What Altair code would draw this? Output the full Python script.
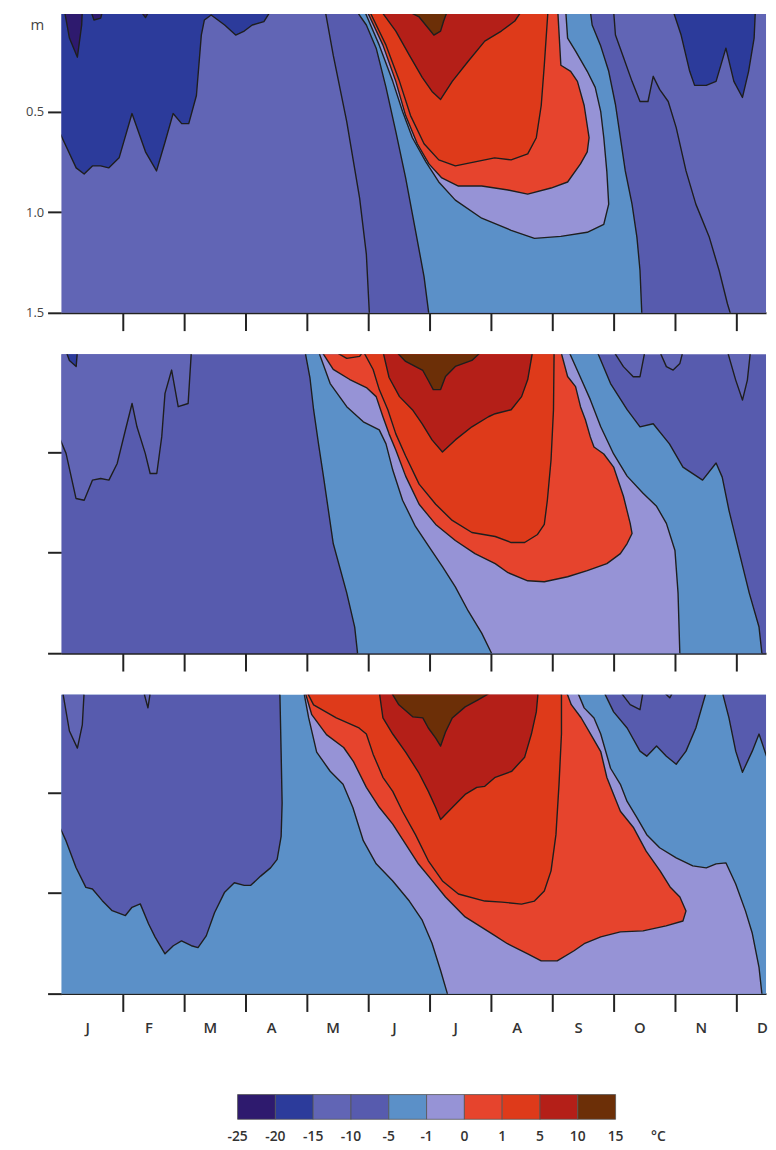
import altair as alt
import pandas as pd

# ---------------- labels / colours ----------------
MONTHS = ["J", "F", "M", "A", "M", "J", "J", "A", "S", "O", "N", "D"]
LEVEL_LABELS = ["-25", "-20", "-15", "-10", "-5", "-1", "0", "1", "5", "10", "15"]
UNIT_LABEL = "°C"
DEPTH_UNIT = "m"
BAND_KEYS = ["m25", "m20", "m15", "m10", "m5", "m1", "p0", "p1", "p5", "p10"]
BAND_COLORS = ["#2e1a6e", "#2c3b9b", "#6165b5", "#575bae", "#5b90c8",
               "#9693d6", "#e6442d", "#de3a1a", "#b41f18", "#6c2f07"]
COL = dict(zip(BAND_KEYS, BAND_COLORS))
DEPTH_TICKS = [0.5, 1.0, 1.5]
UNIT_DEPTH = 0.07  # where the "m" unit label sits on the depth axis

# ---------------- contour lines (month, depth in m) ----------------
# panel 1
P1_TM20_A = [(0.05, 0), (0.13, 0.135), (0.26, 0.23), (0.33, 0.07), (0.34, 0)]
P1_TM20_B = [(0.48, 0), (0.53, 0.045), (0.64, 0.036), (0.67, 0)]
P1_TM20_C = [(1.29, 0), (1.37, 0.033), (1.43, 0)]
P1_TM15_L = [(-0.05, 0.59), (0.24, 0.78), (0.37, 0.81), (0.505, 0.77), (0.64, 0.77), (0.77, 0.78),
             (0.94, 0.73), (1.15, 0.51), (1.37, 0.70), (1.55, 0.795), (1.69, 0.65), (1.82, 0.51),
             (1.96, 0.56), (2.075, 0.56), (2.20, 0.42), (2.28, 0.12), (2.33, 0.045), (2.44, 0.02),
             (2.66, 0.07), (2.84, 0.12), (2.98, 0.10), (3.11, 0.07), (3.30, 0.053), (3.41, 0)]
P1_TM15_R = [(9.97, 0), (10.10, 0.12), (10.24, 0.30), (10.32, 0.37), (10.42, 0.37), (10.51, 0.37),
             (10.67, 0.35), (10.83, 0.185), (10.96, 0.35), (11.10, 0.43), (11.20, 0.30),
             (11.29, 0.135), (11.31, 0)]
P1_TM10_L = [(4.30, 0), (4.43, 0.22), (4.65, 0.55), (4.86, 0.93), (4.97, 1.21), (5.02, 1.51)]
P1_TM10_R = [(9.00, 0), (9.03, 0.12), (9.16, 0.23), (9.30, 0.35), (9.43, 0.45), (9.56, 0.45),
             (9.645, 0.325), (9.75, 0.39), (9.89, 0.45), (10.02, 0.58), (10.18, 0.795),
             (10.34, 0.96), (10.56, 1.125), (10.72, 1.29), (10.855, 1.455), (10.91, 1.51)]
P1_TM5_L = [(4.81, 0), (4.97, 0.07), (5.13, 0.185), (5.29, 0.38), (5.45, 0.60), (5.61, 0.83),
            (5.77, 1.09), (5.91, 1.32), (5.99, 1.51)]
P1_TM5_R = [(8.62, 0), (8.65, 0.07), (8.785, 0.17), (8.92, 0.30), (9.03, 0.465), (9.11, 0.63),
            (9.19, 0.795), (9.30, 0.96), (9.38, 1.125), (9.43, 1.29), (9.46, 1.51)]
P1_TM1 = [(4.94, 0), (5.18, 0.17), (5.40, 0.35), (5.56, 0.50), (5.72, 0.63), (5.94, 0.75),
          (6.15, 0.85), (6.42, 0.94), (6.85, 1.03), (7.33, 1.09), (7.71, 1.13), (8.14, 1.12),
          (8.57, 1.10), (8.84, 1.06), (8.92, 0.96), (8.89, 0.80), (8.84, 0.63), (8.79, 0.50),
          (8.70, 0.38), (8.57, 0.30), (8.38, 0.20), (8.25, 0.135), (8.22, 0)]
P1_T0 = [(4.98, 0), (5.24, 0.17), (5.45, 0.35), (5.61, 0.52), (5.80, 0.66), (5.99, 0.76),
         (6.20, 0.83), (6.47, 0.87), (6.85, 0.87), (7.28, 0.89), (7.60, 0.91), (7.98, 0.88),
         (8.25, 0.85), (8.46, 0.76), (8.57, 0.70), (8.60, 0.63), (8.52, 0.47), (8.41, 0.35),
         (8.30, 0.30), (8.14, 0.27), (8.09, 0)]
P1_T1 = [(5.02, 0), (5.29, 0.17), (5.51, 0.35), (5.69, 0.52), (5.91, 0.66), (6.15, 0.74),
         (6.42, 0.77), (6.74, 0.75), (7.06, 0.73), (7.33, 0.74), (7.60, 0.71), (7.74, 0.63),
         (7.82, 0.47), (7.87, 0.27), (7.93, 0)]
P1_T5 = [(5.21, 0), (5.45, 0.10), (5.67, 0.22), (5.88, 0.33), (6.04, 0.40), (6.18, 0.44),
         (6.37, 0.35), (6.63, 0.25), (6.90, 0.15), (7.17, 0.10), (7.39, 0.05), (7.50, 0)]
P1_T10 = [(5.64, 0), (5.83, 0.03), (5.99, 0.09), (6.07, 0.12), (6.18, 0.10), (6.23, 0.05), (6.29, 0)]

# panel 2
P2_TM15_A = [(0.075, 0), (0.13, 0.045), (0.24, 0.075), (0.26, 0)]
P2_TM10_L = [(-0.05, 0.416), (0.075, 0.507), (0.237, 0.731), (0.371, 0.74), (0.505, 0.64),
             (0.64, 0.632), (0.774, 0.64), (0.909, 0.557), (1.043, 0.391), (1.151, 0.259),
             (1.231, 0.375), (1.366, 0.507), (1.446, 0.607), (1.554, 0.607), (1.635, 0.424),
             (1.688, 0.209), (1.796, 0.093), (1.903, 0.275), (2.065, 0.259), (2.118, 0)]
P2_TM10_A = [(9.00, 0), (9.16, 0.076), (9.32, 0.126), (9.43, 0.126), (9.51, 0)]
P2_TM10_B = [(9.75, 0), (9.86, 0.076), (9.97, 0.093), (10.08, 0.06), (10.13, 0)]
P2_TM10_C = [(10.855, 0), (10.99, 0.143), (11.10, 0.242), (11.18, 0.143), (11.23, 0)]
P2_TM5_L = [(3.97, 0), (4.05, 0.13), (4.11, 0.29), (4.19, 0.46), (4.27, 0.62), (4.43, 0.955),
            (4.65, 1.20), (4.78, 1.37), (4.83, 1.51)]
P2_TM5_R = [(8.73, 0), (8.95, 0.16), (9.22, 0.29), (9.43, 0.375), (9.645, 0.36), (9.91, 0.46),
            (10.13, 0.575), (10.45, 0.64), (10.67, 0.555), (10.77, 0.625), (10.88, 0.79),
            (11.04, 0.99), (11.21, 1.20), (11.37, 1.37), (11.42, 1.51)]
P2_TM1_L = [(4.19, 0), (4.38, 0.16), (4.65, 0.275), (4.92, 0.35), (5.18, 0.39), (5.29, 0.46),
            (5.40, 0.59), (5.56, 0.74), (5.77, 0.87), (5.99, 0.97), (6.21, 1.07), (6.42, 1.17),
            (6.63, 1.29), (6.85, 1.40), (7.01, 1.50)]
P2_TM1_R = [(8.27, 0), (8.46, 0.13), (8.62, 0.24), (8.79, 0.375), (9.00, 0.51), (9.22, 0.62),
            (9.48, 0.705), (9.70, 0.77), (9.86, 0.855), (10.00, 0.99), (10.05, 1.20), (10.08, 1.51)]
P2_T0 = [(4.24, 0), (4.43, 0.09), (4.70, 0.14), (4.97, 0.18), (5.13, 0.225), (5.24, 0.325),
         (5.34, 0.41), (5.45, 0.49), (5.61, 0.62), (5.83, 0.76), (6.10, 0.86), (6.42, 0.94),
         (6.74, 1.005), (7.07, 1.055), (7.28, 1.10), (7.60, 1.14), (7.87, 1.145), (8.25, 1.12),
         (8.57, 1.09), (8.89, 1.055), (9.11, 1.005), (9.22, 0.955), (9.30, 0.905), (9.27, 0.855),
         (9.16, 0.72), (9.00, 0.575), (8.84, 0.51), (8.68, 0.475), (8.62, 0.425), (8.54, 0.34),
         (8.46, 0.275), (8.38, 0.175), (8.25, 0.125), (8.14, 0)]
P2_T1 = [(4.45, 0), (4.65, 0.035), (4.86, 0.025), (4.92, 0), (5.08, 0.09), (5.18, 0.19),
         (5.32, 0.29), (5.45, 0.41), (5.61, 0.52), (5.83, 0.66), (6.10, 0.76), (6.37, 0.84),
         (6.69, 0.90), (7.07, 0.92), (7.33, 0.95), (7.55, 0.95), (7.76, 0.91), (7.87, 0.86),
         (7.92, 0.74), (7.98, 0.54), (8.02, 0.29), (8.03, 0)]
P2_T5 = [(5.24, 0), (5.34, 0.13), (5.51, 0.225), (5.72, 0.29), (5.88, 0.36), (6.04, 0.44),
         (6.21, 0.50), (6.42, 0.44), (6.69, 0.375), (6.96, 0.325), (7.07, 0.31), (7.33, 0.29),
         (7.50, 0.225), (7.60, 0.14), (7.68, 0)]
P2_T10 = [(5.45, 0), (5.61, 0.05), (5.89, 0.095), (5.98, 0.145), (6.06, 0.19), (6.18, 0.19),
          (6.26, 0.125), (6.42, 0.075), (6.69, 0.045), (6.85, 0)]

# panel 3
P3_TM5_L = [(-0.05, 0.658), (0.075, 0.741), (0.237, 0.873), (0.398, 0.972), (0.505, 0.98),
            (0.666, 1.038), (0.827, 1.088), (1.043, 1.112), (1.15, 1.071), (1.285, 1.054),
            (1.419, 1.153), (1.527, 1.219), (1.688, 1.302), (1.823, 1.262), (1.957, 1.238),
            (2.118, 1.262), (2.226, 1.271), (2.36, 1.213), (2.495, 1.098), (2.656, 0.998),
            (2.818, 0.949), (2.979, 0.962), (3.086, 0.962), (3.247, 0.916), (3.408, 0.875),
            (3.516, 0.833), (3.581, 0.718), (3.597, 0.553), (3.581, 0.305), (3.56, 0)]
P3_TM10_A = [(0.02, 0), (0.13, 0.195), (0.26, 0.28), (0.34, 0.165), (0.37, 0)]
P3_TM10_B = [(1.34, 0), (1.41, 0.08), (1.45, 0)]
P3_TM5_A = [(8.84, 0), (9.00, 0.10), (9.22, 0.18), (9.43, 0.295), (9.54, 0.32), (9.70, 0.27),
            (9.86, 0.32), (10.02, 0.36), (10.18, 0.295), (10.34, 0.18), (10.51, 0)]
P3_TM5_B = [(10.77, 0), (10.88, 0.13), (10.99, 0.295), (11.10, 0.40), (11.26, 0.295),
            (11.37, 0.21), (11.52, 0.345), (11.6, 0.4)]
P3_TM10_C = [(9.11, 0), (9.27, 0.064), (9.43, 0.089), (9.48, 0)]
P3_TM10_D = [(9.81, 0), (9.915, 0.03), (9.97, 0)]
P3_TM1_L = [(3.95, 0), (4.03, 0.13), (4.16, 0.30), (4.38, 0.395), (4.59, 0.46), (4.75, 0.575),
            (4.92, 0.74), (5.13, 0.855), (5.40, 0.94), (5.67, 1.04), (5.88, 1.135), (6.04, 1.25),
            (6.18, 1.385), (6.29, 1.5)]
P3_TM1_R = [(8.41, 0), (8.52, 0.08), (8.68, 0.13), (8.79, 0.21), (8.95, 0.38), (9.11, 0.46),
            (9.22, 0.545), (9.38, 0.625), (9.54, 0.71), (9.75, 0.775), (10.02, 0.825),
            (10.29, 0.865), (10.51, 0.875), (10.67, 0.855), (10.83, 0.85), (10.99, 0.955),
            (11.15, 1.09), (11.26, 1.20), (11.37, 1.37), (11.42, 1.51)]
P3_T0 = [(3.97, 0), (4.08, 0.114), (4.32, 0.213), (4.60, 0.277), (4.76, 0.347), (4.97, 0.475),
         (5.18, 0.574), (5.40, 0.658), (5.61, 0.757), (5.82, 0.856), (6.05, 0.941), (6.26, 1.02),
         (6.58, 1.119), (7.02, 1.203), (7.27, 1.252), (7.60, 1.302), (7.82, 1.337), (8.08, 1.337),
         (8.355, 1.287), (8.52, 1.252), (8.79, 1.218), (9.11, 1.193), (9.48, 1.188), (9.855, 1.163),
         (10.13, 1.139), (10.18, 1.089), (10.08, 1.02), (9.92, 0.97), (9.76, 0.891), (9.53, 0.792),
         (9.32, 0.673), (9.11, 0.594), (9.00, 0.51), (8.89, 0.426), (8.79, 0.297), (8.63, 0.213),
         (8.47, 0.129), (8.31, 0.064), (8.23, 0)]
P3_T1 = [(4.00, 0), (4.11, 0.065), (4.48, 0.13), (4.85, 0.18), (4.97, 0.21), (5.08, 0.31),
         (5.24, 0.425), (5.40, 0.495), (5.56, 0.595), (5.77, 0.71), (5.98, 0.84), (6.21, 0.94),
         (6.47, 1.005), (6.90, 1.04), (7.18, 1.045), (7.50, 1.055), (7.71, 1.04), (7.87, 0.99),
         (7.98, 0.89), (8.06, 0.71), (8.11, 0.46), (8.15, 0.21), (8.15, 0)]
P3_T5 = [(5.18, 0), (5.24, 0.13), (5.40, 0.21), (5.61, 0.30), (5.82, 0.40), (5.98, 0.495),
         (6.10, 0.575), (6.18, 0.635), (6.37, 0.575), (6.58, 0.51), (6.77, 0.475), (6.90, 0.47),
         (7.07, 0.425), (7.34, 0.395), (7.55, 0.325), (7.66, 0.21), (7.74, 0.10), (7.77, 0)]
P3_T10 = [(5.37, 0), (5.50, 0.065), (5.73, 0.125), (5.89, 0.13), (5.98, 0.18), (6.10, 0.23),
          (6.18, 0.27), (6.26, 0.20), (6.37, 0.13), (6.58, 0.075), (6.79, 0.04), (7.02, 0)]

# ---------------- polygon helpers (closing points lie just outside the plotted range) ----------------
OUT_TOP, OUT_BOTTOM, OUT_LEFT, OUT_RIGHT = -0.01, 1.52, -0.05, 11.6


def from_top(line):
    return [(line[0][0], OUT_TOP)] + line + [(line[-1][0], OUT_TOP)]


def between(left, right):
    return ([(left[0][0], OUT_TOP)] + left + [(left[-1][0], OUT_BOTTOM), (right[-1][0], OUT_BOTTOM)]
            + right[::-1] + [(right[0][0], OUT_TOP)])


FULL = [(OUT_LEFT, OUT_TOP), (OUT_RIGHT, OUT_TOP), (OUT_RIGHT, OUT_BOTTOM), (OUT_LEFT, OUT_BOTTOM)]

PANEL1 = [("m15", FULL), ("m10", between(P1_TM10_L, P1_TM10_R)), ("m5", between(P1_TM5_L, P1_TM5_R)),
          ("m1", from_top(P1_TM1)), ("p0", from_top(P1_T0)), ("p1", from_top(P1_T1)),
          ("p5", from_top(P1_T5)), ("p10", from_top(P1_T10)),
          ("m20", from_top(P1_TM15_L)), ("m20", from_top(P1_TM15_R)),
          ("m25", from_top(P1_TM20_A)), ("m25", from_top(P1_TM20_B)), ("m25", from_top(P1_TM20_C))]
PANEL2 = [("m10", FULL), ("m15", from_top(P2_TM10_L)), ("m15", from_top(P2_TM10_A)),
          ("m15", from_top(P2_TM10_B)), ("m15", from_top(P2_TM10_C)), ("m20", from_top(P2_TM15_A)),
          ("m5", between(P2_TM5_L, P2_TM5_R)), ("m1", between(P2_TM1_L, P2_TM1_R)),
          ("p0", from_top(P2_T0)), ("p1", from_top(P2_T1)), ("p5", from_top(P2_T5)),
          ("p10", from_top(P2_T10))]
PANEL3 = [("m5", FULL), ("m10", from_top(P3_TM5_L)), ("m15", from_top(P3_TM10_A)),
          ("m15", from_top(P3_TM10_B)), ("m10", from_top(P3_TM5_A)), ("m10", from_top(P3_TM5_B)),
          ("m15", from_top(P3_TM10_C)), ("m15", from_top(P3_TM10_D)),
          ("m1", between(P3_TM1_L, P3_TM1_R)), ("p0", from_top(P3_T0)), ("p1", from_top(P3_T1)),
          ("p5", from_top(P3_T5)), ("p10", from_top(P3_T10))]

# ---------------- chart ----------------
W, H = 712, 302
FONT = "Open Sans"
LINE = "#1e1e1e"
X_SCALE = alt.Scale(domain=[0, 11.484], nice=False, zero=False)
Y_SCALE = alt.Scale(domain=[0.015, 1.5], reverse=True, nice=False, zero=False)


def x_axis(with_labels):
    common = dict(tickSize=18, tickWidth=2, tickColor="#222", domainColor="#222", domainWidth=2,
                  grid=False)
    if with_labels:
        return alt.Axis(values=list(range(0, 12)), labelExpr=f"{MONTHS}[datum.value]",
                        labelOffset=26, labelPadding=9, labelFontSize=15, labelColor="#333",
                        labelFont=FONT, labelFontWeight=600, labelAngle=0, labelFlush=False,
                        tickOpacity={"condition": {"test": "datum.value == 0", "value": 0}, "value": 1},
                        **common)
    return alt.Axis(values=list(range(1, 12)), labels=False, **common)


def y_axis(with_labels):
    common = dict(tickSize=14, tickWidth=2, tickColor="#222", domain=False, grid=False)
    if with_labels:
        return alt.Axis(values=[UNIT_DEPTH] + DEPTH_TICKS,
                        labelExpr=f"datum.value < 0.1 ? '{DEPTH_UNIT}' : format(datum.value, '.1f')",
                        labelFontSize={"condition": {"test": "datum.value < 0.1", "value": 15}, "value": 13},
                        tickOpacity={"condition": {"test": "datum.value < 0.1", "value": 0}, "value": 1},
                        labelColor="#444", labelFont=FONT, labelPadding=4, labelFlush=False, **common)
    return alt.Axis(values=DEPTH_TICKS, labels=False, **common)


def panel(polys, ylab, xlab):
    xenc = alt.X("month:Q", scale=X_SCALE, axis=x_axis(xlab), title=None)
    yenc = alt.Y("depth:Q", scale=Y_SCALE, axis=y_axis(ylab), title=None)
    layers = []
    for n, (key, pts) in enumerate(polys):
        df = pd.DataFrame({"month": [p[0] for p in pts], "depth": [p[1] for p in pts],
                           "i": list(range(len(pts)))})
        if n == 0:
            mk = alt.Chart(df).mark_line(fill=COL[key], stroke=COL[key], strokeOpacity=0, clip=True)
        else:
            mk = alt.Chart(df).mark_line(fill=COL[key], stroke=LINE, strokeWidth=1.4,
                                         strokeJoin="round", clip=True)
        layers.append(mk.encode(x=xenc, y=yenc, order=alt.Order("i:Q")))
    return alt.layer(*layers).properties(width=W, height=H)


p1 = panel(PANEL1, True, False)
p2 = panel(PANEL2, False, False)
p3 = panel(PANEL3, False, True)

LEG_SCALE = alt.Scale(domain=[-4.66, 13.98], nice=False, zero=False)
leg_df = pd.DataFrame({"lo": list(range(10)), "hi": list(range(1, 11)), "color": BAND_COLORS})
bar = alt.Chart(leg_df).mark_rect(stroke="#555", strokeWidth=0.8).encode(
    x=alt.X("lo:Q", scale=LEG_SCALE, axis=None), x2="hi:Q",
    y=alt.value(60), y2=alt.value(85), color=alt.Color("color:N", scale=None))
lab_df = pd.DataFrame({"pos": list(range(11)) + [11.13], "text": LEVEL_LABELS + [UNIT_LABEL]})
txt = alt.Chart(lab_df).mark_text(fontSize=14, color="#333", font=FONT, fontWeight=600,
                                  baseline="middle").encode(
    x=alt.X("pos:Q", scale=LEG_SCALE, axis=None), y=alt.value(103), text="text:N")
legend = alt.layer(bar, txt).properties(width=W, height=85)

chart = alt.vconcat(p1, p2, p3, legend, spacing=42, bounds="flush").properties(
    padding={"left": 17, "top": 0, "right": 0, "bottom": 0}
).configure(font=FONT).configure_view(stroke="transparent", strokeWidth=0)

chart.save("out.html", embed_options={"renderer": "svg", "actions": False})
